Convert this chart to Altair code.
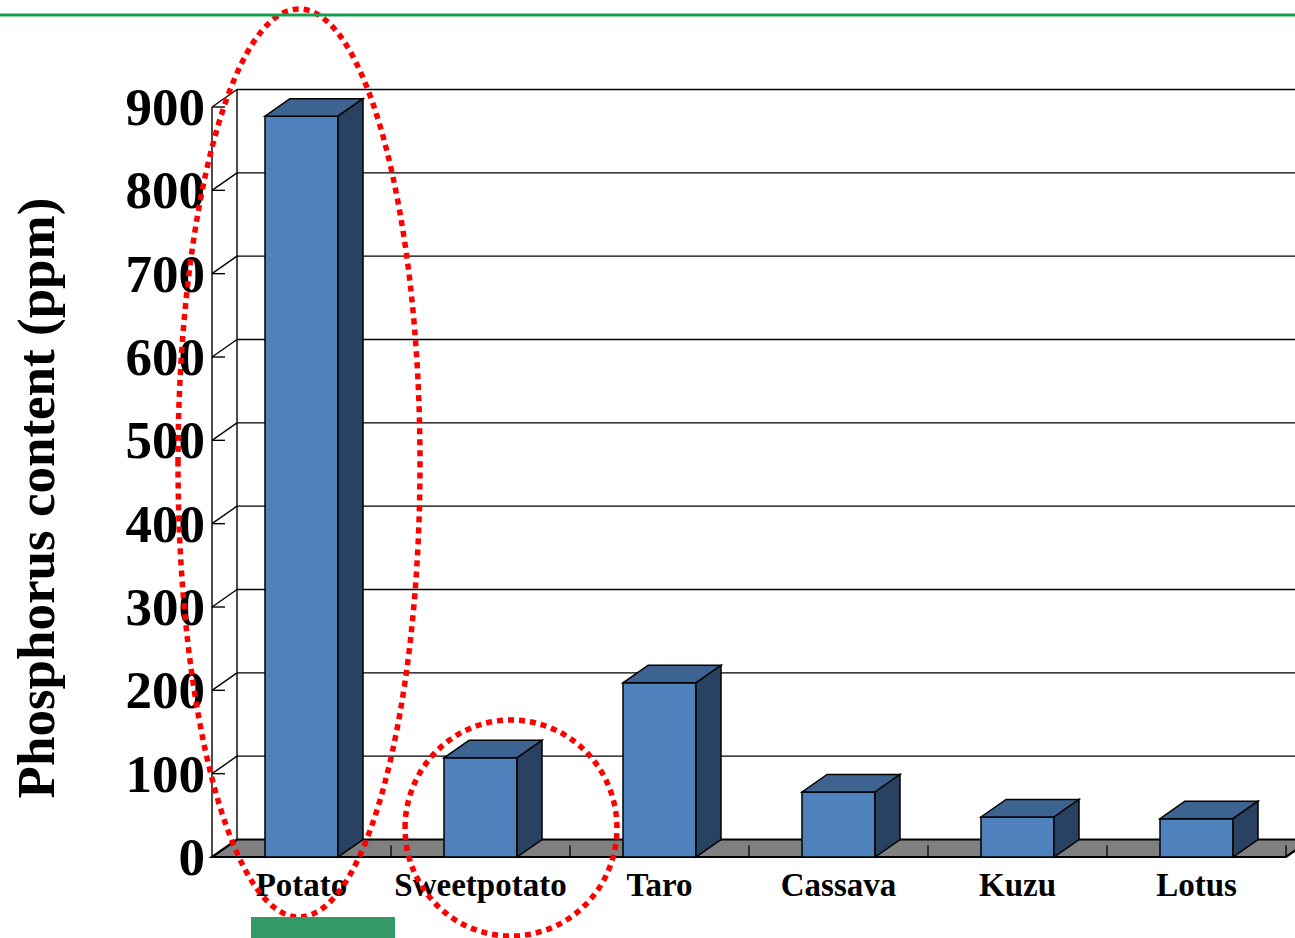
import altair as alt
import pandas as pd

# ---------------- data ----------------
CATEGORIES = ["Potato", "Sweetpotato", "Taro", "Cassava", "Kuzu", "Lotus"]
PHOSPHORUS = [889, 119, 209, 78, 48, 46]
Y_TICKS = [0, 100, 200, 300, 400, 500, 600, 700, 800, 900]
Y_TITLE = "Phosphorus content (ppm)"

# ---------------- layout / style ----------------
W, H = 1295, 938
X0, BAND = 212, 179          # pixel of front-left corner, pixels per category
Y0, PPU = 857, 750 / 900     # pixel of value 0, pixels per unit
DX = 25 / BAND               # 3-D depth offset (x, in category units)
DY = 17.5 / PPU              # 3-D depth offset (y, in value units)
BAR_HALF = 36.5 / BAND
TICK_LEN = 13 / BAND
N = len(CATEGORIES)
XMAX = (W - X0) / BAND + 0.2

FRONT, TOP, SIDE = "#4f81bd", "#3d6491", "#2a4262"
FONT = "Liberation Serif"

xs = alt.Scale(domain=[-X0 / BAND, (W - X0) / BAND], nice=False, zero=False)
ys = alt.Scale(domain=[-(H - Y0) / PPU, Y0 / PPU], nice=False, zero=False)

# ---------------- derived tables ----------------
bars = pd.DataFrame({"name": CATEGORIES, "v": PHOSPHORUS})
bars["c"] = [i + 0.5 for i in range(N)]
bars["xl"] = bars["c"] - BAR_HALF
bars["xr"] = bars["c"] + BAR_HALF
bars["zero"] = 0.0

side_rows, top_rows = [], []
for name, v, xl, xr in zip(bars["name"], bars["v"], bars["xl"], bars["xr"]):
    side_rows.append({"name": name, "x": xr, "yt": v, "yb": 0.0})
    side_rows.append({"name": name, "x": xr + DX, "yt": v + DY, "yb": DY})
    top_rows.append({"name": name, "y": v, "x": xl, "x2": xr})
    top_rows.append({"name": name, "y": v + DY, "x": xl + DX, "x2": xr + DX})
side = pd.DataFrame(side_rows)
top = pd.DataFrame(top_rows)

floor = pd.DataFrame([
    {"k": "f", "y": 0.0, "x": 0.0, "x2": float(N)},
    {"k": "f", "y": DY, "x": DX, "x2": N + DX},
])

rules = []
for v in Y_TICKS:
    rules.append({"x": 0.0, "x2": DX, "y": v, "y2": v + DY})          # side-wall diagonal
    rules.append({"x": 0.0, "x2": TICK_LEN, "y": v, "y2": v})          # tick
    if v > 0:
        rules.append({"x": DX, "x2": XMAX, "y": v + DY, "y2": v + DY})  # back-wall grid
rules.append({"x": 0.0, "x2": 0.0, "y": 0.0, "y2": max(Y_TICKS)})
rules.append({"x": DX, "x2": DX, "y": DY, "y2": max(Y_TICKS) + DY})
rules = pd.DataFrame(rules)

floor_ticks = pd.DataFrame({"x": [float(k) for k in range(1, N + 1)]})
floor_ticks["y"] = 0.0
floor_ticks["y2"] = 14.0

ticks = pd.DataFrame({"v": Y_TICKS, "x": 0.0, "lab": [str(t) for t in Y_TICKS]})
cats = pd.DataFrame({"name": CATEGORIES, "c": [i + 0.5 for i in range(N)], "zero": 0.0})

X = lambda f: alt.X(f, scale=xs, axis=None)
Y = lambda f: alt.Y(f, scale=ys, axis=None)

# ---------------- layers ----------------
grid = alt.Chart(rules).mark_rule(color="black", strokeWidth=1.4).encode(
    x=X("x:Q"), x2="x2:Q", y=Y("y:Q"), y2="y2:Q")

floor_l = alt.Chart(floor).mark_area(orient="horizontal", fill="#808080",
                                     stroke="black", strokeWidth=2.2).encode(
    y=Y("y:Q"), x=X("x:Q"), x2="x2:Q", detail="k:N")

ftick = alt.Chart(floor_ticks).mark_rule(color="black", strokeWidth=1.3).encode(
    x=X("x:Q"), y=Y("y:Q"), y2="y2:Q")

front_l = alt.Chart(bars).mark_rect(fill=FRONT, stroke="black", strokeWidth=1.5).encode(
    x=X("xl:Q"), x2="xr:Q", y=Y("zero:Q"), y2="v:Q")

top_l = alt.Chart(top).mark_area(orient="horizontal", fill=TOP, stroke="black",
                                 strokeWidth=1.5).encode(
    y=Y("y:Q"), x=X("x:Q"), x2="x2:Q", detail="name:N")

side_l = alt.Chart(side).mark_area(orient="vertical", fill=SIDE, stroke="black",
                                   strokeWidth=1.5).encode(
    x=X("x:Q"), y=Y("yt:Q"), y2="yb:Q", detail="name:N")

ylabels = alt.Chart(ticks).mark_text(font=FONT, fontWeight="bold", fontSize=53,
                                     align="right", baseline="middle", dx=-7, dy=2,
                                     color="black").encode(
    x=X("x:Q"), y=Y("v:Q"), text="lab:N")

xlabels = alt.Chart(cats).mark_text(font=FONT, fontWeight="bold", fontSize=33,
                                    align="center", baseline="alphabetic", dy=39,
                                    color="black").encode(
    x=X("c:Q"), y=Y("zero:Q"), text="name:N")

one = pd.DataFrame({"t": [Y_TITLE]})
ytitle = alt.Chart(one).mark_text(font=FONT, fontWeight="bold", fontSize=53,
                                  angle=270, align="center", baseline="middle",
                                  color="black").encode(
    x=alt.value(38), y=alt.value(498), text="t:N")

ell1 = alt.Chart(one).mark_point(
    shape="M -0.2665 0 A 0.2665 1 0 1 1 0.2665 0 A 0.2665 1 0 1 1 -0.2665 0 Z",
    size=(2 * 454) ** 2, filled=False, stroke="#ff0000", strokeWidth=5.5,
    strokeDash=[6, 5], opacity=1).encode(x=alt.value(299), y=alt.value(463))

ell2 = alt.Chart(one).mark_point(
    shape="M -0.981 0 A 0.981 1 0 1 1 0.981 0 A 0.981 1 0 1 1 -0.981 0 Z",
    size=(2 * 108) ** 2, filled=False, stroke="#ff0000", strokeWidth=5.5,
    strokeDash=[6, 5], opacity=1).encode(x=alt.value(511), y=alt.value(828))

topline = alt.Chart(one).mark_rule(color="#12a150", strokeWidth=3).encode(
    x=alt.value(0), x2=alt.value(W), y=alt.value(15))

greenbox = alt.Chart(one).mark_rect(color="#339966").encode(
    x=alt.value(251), x2=alt.value(395), y=alt.value(917), y2=alt.value(938))

chart = alt.layer(
    grid, floor_l, ftick, front_l, top_l, side_l,
    ylabels, xlabels, ytitle, ell1, ell2, topline, greenbox
).properties(
    width=W, height=H, padding=0,
    autosize=alt.AutoSizeParams(type="none"),
    background="white",
).configure_view(stroke=None)

chart.save("out.html", embed_options={"renderer": "svg", "actions": False})
